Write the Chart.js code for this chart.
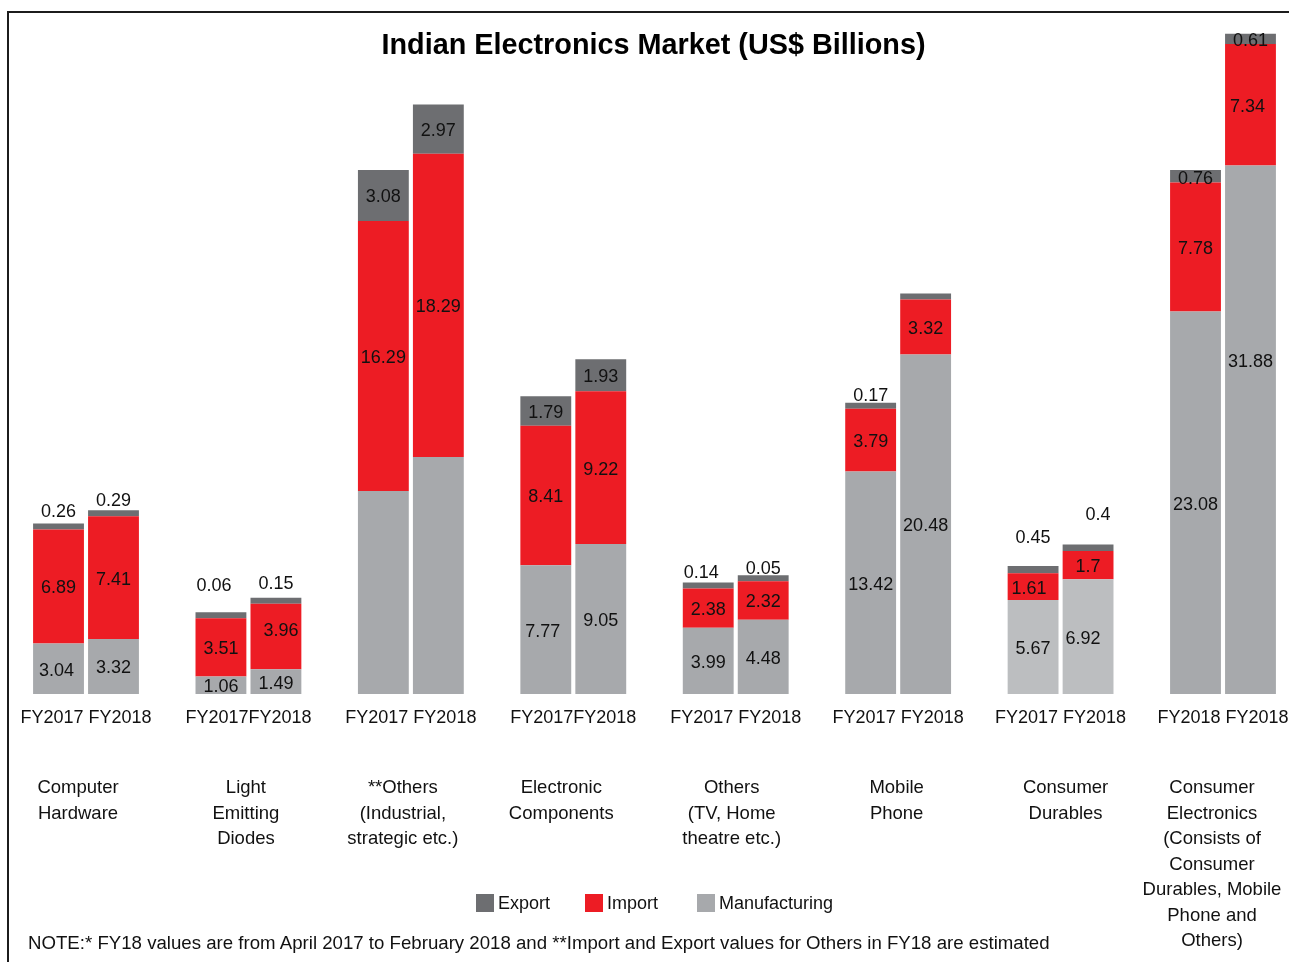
<!DOCTYPE html>
<html>
<head>
<meta charset="utf-8">
<title>Indian Electronics Market</title>
<script src="https://cdn.jsdelivr.net/npm/chart.js@4.4.1/dist/chart.umd.min.js"></script>
<style>
    html, body { margin: 0; padding: 0; background: #fff; overflow: hidden; }
    body { width: 1289px; height: 962px; position: relative; font-family: "Liberation Sans", Arial, Helvetica, sans-serif; color: #111; }
    #frame { position: absolute; left: 7px; top: 11px; right: 0; bottom: -4px; border-top: 2px solid #1c1c1c; border-left: 2px solid #1c1c1c; }
    #wrap { position: absolute; left: 0; top: 0; width: 1289px; height: 962px; }
    #title { position: absolute; left: 0; width: 1307px; top: 29px; line-height: 30px; text-align: center; font-weight: bold; font-size: 28.8px; color: #000; }
    #legend { position: absolute; left: 476px; top: 894px; display: flex; font-size: 18px; line-height: 18px; }
    #legend .item { display: flex; align-items: center; }
    #legend .box { width: 18px; height: 18px; margin-right: 4px; }
    #note { position: absolute; left: 28px; top: 933px; font-size: 18.65px; line-height: 20px; white-space: nowrap; }
</style>
</head>
<body>
<div id="frame"></div>
<div id="wrap"><canvas id="chart"></canvas></div>
<div id="title">Indian Electronics Market (US$ Billions)</div>
<div id="legend"></div>
<div id="note">NOTE:* FY18 values are from April 2017 to February 2018 and **Import and Export values for Others in FY18 are estimated</div>
<script>
const categories = [
    ['Computer', 'Hardware'],
    ['Light', 'Emitting', 'Diodes'],
    ['**Others', '(Industrial,', 'strategic etc.)'],
    ['Electronic', 'Components'],
    ['Others', '(TV, Home', 'theatre etc.)'],
    ['Mobile', 'Phone'],
    ['Consumer', 'Durables'],
    ['Consumer', 'Electronics', '(Consists of', 'Consumer', 'Durables, Mobile', 'Phone and', 'Others)']
];
const yearLabels = ['FY2017 FY2018', 'FY2017FY2018', 'FY2017 FY2018', 'FY2017FY2018',
    'FY2017 FY2018', 'FY2017 FY2018', 'FY2017 FY2018', 'FY2018 FY2018'];

// first bar of each pair
const manufacturingFirst = [3.04, 1.06, 12.25, 7.77, 3.99, 13.42, 5.67, 23.08];
const importFirst = [6.89, 3.51, 16.29, 8.41, 2.38, 3.79, 1.61, 7.78];
const exportFirst = [0.26, 0.06, 3.08, 1.79, 0.14, 0.17, 0.45, 0.76];
// second bar of each pair
const manufacturingSecond = [3.32, 1.49, 14.3, 9.05, 4.48, 20.48, 6.92, 31.88];
const importSecond = [7.41, 3.96, 18.29, 9.22, 2.32, 3.32, 1.7, 7.34];
const exportSecond = [0.29, 0.15, 2.97, 1.93, 0.05, 0.2, 0.4, 0.61];

const series = [
    { name: 'Manufacturing', color: '#A7A9AC', first: manufacturingFirst, second: manufacturingSecond },
    { name: 'Import', color: '#ED1C24', first: importFirst, second: importSecond },
    { name: 'Export', color: '#6D6E71', first: exportFirst, second: exportSecond }
];

// label tweaks (not data)
const hiddenLabels = ['Manufacturing-first-2', 'Manufacturing-second-2', 'Export-second-5'];
const labelAbove = {
    'Export-first': [13, 28, 0, 0, 11, 9, 30, 0],
    'Export-second': [11, 16, 0, 0, 8, 0, 31, 0]
};
const labelShift = {
    'Export-first-1': [-7, 0], 'Export-first-4': [-7, 0], 'Export-second-6': [10, 0],
    'Manufacturing-second-7': [0, -70], 'Import-second-1': [5, -7],
    'Import-first-6': [-4, 0], 'Manufacturing-second-6': [-5, 0],
    'Import-second-7': [-3, 0], 'Manufacturing-first-3': [-3, 0],
    'Manufacturing-first-0': [-2, 0], 'Export-first-7': [0, 1]
};
const categoryShift = [-8, -2.5, -8, -12, -4, -1.5, 5, -11];
const legendGap = [35, 39, 0];
const lighterGray = '#BCBEC0';

const datasets = [];
['first', 'second'].forEach(stack => {
    series.forEach(s => {
        datasets.push({
            label: s.name,
            key: s.name + '-' + stack,
            stack: stack,
            data: s[stack],
            backgroundColor: s.name === 'Manufacturing'
                ? s[stack].map((_, i) => i === 6 ? lighterGray : s.color)
                : s.color,
            borderWidth: 0,
            clip: false,
            minBarLength: s.name === 'Export' ? 6 : 0,
            categoryPercentage: 0.677,
            barPercentage: 0.925
        });
    });
});

const font = '"Liberation Sans", Arial, Helvetica, sans-serif';

const barLabels = {
    id: 'barLabels',
    afterDatasetsDraw(chart) {
        const ctx = chart.ctx;
        ctx.save();
        ctx.font = '18px ' + font;
        ctx.fillStyle = '#111';
        ctx.textAlign = 'center';
        ctx.textBaseline = 'middle';
        chart.data.datasets.forEach((ds, di) => {
            const meta = chart.getDatasetMeta(di);
            meta.data.forEach((bar, i) => {
                const id = ds.key + '-' + i;
                if (hiddenLabels.includes(id)) return;
                const shift = labelShift[id] || [0, 0];
                const lift = labelAbove[ds.key] ? labelAbove[ds.key][i] : 0;
                const y = lift ? bar.y - lift : (bar.y + bar.base) / 2;
                ctx.fillText(String(ds.data[i]), bar.x + shift[0], y + shift[1] + 2);
            });
        });
        ctx.restore();
    }
};

// year pair under each group and the category name below it
const axisLabels = {
    id: 'axisLabels',
    afterDraw(chart) {
        const ctx = chart.ctx;
        const x = chart.scales.x;
        ctx.save();
        ctx.fillStyle = '#111';
        ctx.textAlign = 'center';
        ctx.textBaseline = 'middle';
        ctx.font = '18px ' + font;
        yearLabels.forEach((txt, i) => {
            ctx.fillText(txt, x.getPixelForValue(i), x.top + 24);
        });
        ctx.font = '18.5px ' + font;
        categories.forEach((lines, i) => {
            const cx = x.getPixelForValue(i) + categoryShift[i];
            lines.forEach((line, k) => {
                ctx.fillText(line, cx, x.top + 94 + k * 25.5);
            });
        });
        ctx.restore();
    }
};

const chartCtx = document.getElementById('chart').getContext('2d');
const chart = new Chart(chartCtx, {
    type: 'bar',
    data: { labels: yearLabels, datasets: datasets },
    plugins: [barLabels, axisLabels],
    options: {
        responsive: true,
        maintainAspectRatio: false,
        animation: false,
        layout: { autoPadding: false, padding: { left: 86, right: 66, top: 31, bottom: 228 } },
        plugins: { legend: { display: false }, tooltip: { enabled: false }, title: { display: false } },
        scales: {
            x: {
                stacked: true,
                offset: false,
                grid: { display: false, drawTicks: false },
                border: { display: false },
                ticks: { display: false },
                afterFit: scale => { scale.height = 40; }
            },
            y: { stacked: true, display: false, min: 0, max: 40 }
        }
    }
});

// legend, top of stack first
const legend = document.getElementById('legend');
series.slice().reverse().forEach((s, i) => {
    const item = document.createElement('div');
    item.className = 'item';
    item.style.marginRight = legendGap[i] + 'px';
    item.innerHTML = `<span class="box" style="background:${s.color}"></span><span>${s.name}</span>`;
    legend.appendChild(item);
});
</script>
</body>
</html>
